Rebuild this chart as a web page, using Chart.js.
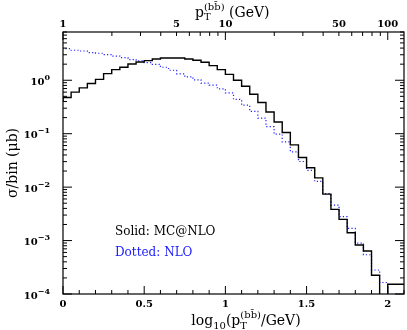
<!DOCTYPE html>
<html>
<head>
<meta charset="utf-8">
<script src="https://cdn.jsdelivr.net/npm/chart.js@4.4.0/dist/chart.umd.min.js"></script>
<style>
  html, body { margin: 0; padding: 0; background: #fff; }
</style>
</head>
<body>
<canvas id="chart" width="407" height="330"></canvas>
<script>
// histogram bins in log10(pT/GeV), width 0.05 starting at 0
const binStart = 0;
const binWidth = 0.05;
// sigma per bin (mub), solid = MC@NLO, dotted = NLO
const mcatnlo = [0.41, 0.475, 0.60, 0.72, 0.87, 1.04, 1.33, 1.58, 1.75, 2.02,
                 2.20, 2.33, 2.50, 2.61, 2.61, 2.61, 2.50, 2.37, 2.17, 1.88,
                 1.58, 1.29, 1.00, 0.77, 0.547, 0.383, 0.255, 0.166, 0.105, 0.0618,
                 0.0359, 0.0230, 0.0149, 0.0074, 0.00383, 0.00249, 0.0014, 0.000824, 0.000637, 0.000224,
                 0.00001, 0.000152];
const nlo = [4.08, 3.91, 3.64, 3.53, 3.30, 3.20, 3.02, 2.84, 2.65, 2.44,
             2.30, 2.14, 1.99, 1.75, 1.54, 1.32, 1.16, 1.02, 0.88, 0.81,
             0.69, 0.58, 0.438, 0.341, 0.261, 0.195, 0.136, 0.098, 0.0703, 0.0457,
             0.0302, 0.0205, 0.0128, 0.00756, 0.00461, 0.00281, 0.00169, 0.000898, 0.000543, 0.000281,
             0.000164, 0.00001];
const bottomTicks = [0, 0.5, 1, 1.5, 2];
const topTickLabels = [1, 5, 10, 50, 100];
const decadeTicks = [1e-4, 1e-3, 1e-2, 1e-1, 1];

const serif = '"DejaVu Serif", serif';

function histPoints(values) {
    const pts = values.map((v, i) => ({ x: binStart + i * binWidth, y: v }));
    pts.push({ x: binStart + values.length * binWidth, y: values[values.length - 1] });
    return pts;
}

// draws text made of pieces (subscripts / superscripts), stack = start under previous piece
function drawRich(ctx, segs, x, y, align) {
    let cursor = 0, lastStart = 0;
    const placed = segs.map(s => {
        ctx.font = (s.weight || '') + ' ' + s.size + 'px ' + serif;
        const w = ctx.measureText(s.t).width;
        const start = s.stack ? lastStart : cursor;
        lastStart = start;
        cursor = Math.max(cursor, start + w);
        return { s, start };
    });
    let x0 = x;
    if (align === 'center') x0 = x - cursor / 2;
    if (align === 'right') x0 = x - cursor;
    ctx.textAlign = 'left';
    ctx.textBaseline = 'alphabetic';
    placed.forEach(p => {
        ctx.font = (p.s.weight || '') + ' ' + p.s.size + 'px ' + serif;
        ctx.fillText(p.s.t, x0 + p.start, y + (p.s.dy || 0));
    });
}

const framePlugin = {
    id: 'frame',
    afterDatasetsDraw(chart) {
        const { ctx, chartArea: a, scales } = chart;
        ctx.save();
        ctx.strokeStyle = '#000';
        ctx.lineWidth = 1.2;
        ctx.strokeRect(a.left, a.top, a.right - a.left, a.bottom - a.top);

        ctx.lineWidth = 1;
        ctx.beginPath();
        // bottom axis ticks, every 0.1
        for (let k = 0; k <= 21; k++) {
            const px = scales.x.getPixelForValue(k / 10);
            const len = k % 5 === 0 ? 8 : 4;
            ctx.moveTo(px, a.bottom);
            ctx.lineTo(px, a.bottom - len);
        }
        // top axis ticks, pT in GeV
        for (let d = 0; d <= 2; d++) {
            for (let m = 1; m <= 9; m++) {
                const g = m * Math.pow(10, d);
                if (g > 125) continue;
                const px = scales.x2.getPixelForValue(Math.log10(g));
                const len = m === 1 ? 8 : 4;
                ctx.moveTo(px, a.top);
                ctx.lineTo(px, a.top + len);
            }
        }
        // left / right log ticks
        for (let d = -4; d <= 0; d++) {
            for (let m = 1; m <= 9; m++) {
                const v = m * Math.pow(10, d);
                if (v > 8) continue;
                const py = scales.y.getPixelForValue(v);
                const len = m === 1 ? 9 : 4;
                ctx.moveTo(a.left, py);
                ctx.lineTo(a.left + len, py);
                ctx.moveTo(a.right, py);
                ctx.lineTo(a.right - len, py);
            }
        }
        ctx.stroke();

        ctx.fillStyle = '#000';
        // y tick labels 10^n
        decadeTicks.forEach(v => {
            const py = scales.y.getPixelForValue(v);
            const e = String(Math.round(Math.log10(v))).replace('-', '\u2212');
            drawRich(ctx, [
                { t: '10', size: 10, weight: 'bold' },
                { t: e, size: 8, weight: 'bold', dy: -5 }
            ], 50, py + 4.5, 'right');
        });

        // axis titles
        drawRich(ctx, [
            { t: 'log', size: 14 },
            { t: '10', size: 10, dy: 4 },
            { t: '(p', size: 14 },
            { t: 'T', size: 10, dy: 4 },
            { t: '(bb\u0304)', size: 10, dy: -7, stack: true },
            { t: '/GeV)', size: 14 }
        ], 246, 325, 'center');

        drawRich(ctx, [
            { t: 'p', size: 14 },
            { t: 'T', size: 10, dy: 3 },
            { t: '(bb\u0304)', size: 10, dy: -7, stack: true },
            { t: ' (GeV)', size: 14 }
        ], 195, 17, 'left');

        ctx.save();
        ctx.translate(13, (a.top + a.bottom) / 2);
        ctx.rotate(-Math.PI / 2);
        ctx.font = '14px ' + serif;
        ctx.textAlign = 'center';
        ctx.textBaseline = 'middle';
        ctx.fillText('\u03C3/bin (\u03BCb)', 0, 0);
        ctx.restore();

        // legend notes
        ctx.font = '12px ' + serif;
        ctx.textAlign = 'left';
        ctx.textBaseline = 'alphabetic';
        ctx.fillStyle = '#000';
        ctx.fillText('Solid: MC@NLO', 115, 235);
        ctx.fillStyle = '#1a1aff';
        ctx.fillText('Dotted: NLO', 115, 256);
        ctx.restore();
    }
};

const tickFont = { family: serif, size: 10, weight: 'bold' };

new Chart(document.getElementById('chart'), {
    type: 'line',
    data: {
        datasets: [{
            label: 'MC@NLO',
            data: histPoints(mcatnlo),
            borderColor: '#000',
            borderWidth: 1.4,
            stepped: 'after',
            pointRadius: 0,
            fill: false
        }, {
            label: 'NLO',
            data: histPoints(nlo),
            borderColor: '#2222ff',
            borderWidth: 1.2,
            borderDash: [1.2, 2.2],
            stepped: 'after',
            pointRadius: 0,
            fill: false
        }]
    },
    options: {
        responsive: false,
        animation: false,
        layout: { padding: { right: 3 } },
        plugins: { legend: { display: false }, tooltip: { enabled: false } },
        scales: {
            x: {
                type: 'linear',
                position: 'bottom',
                min: 0,
                max: 2.1,
                afterBuildTicks: s => { s.ticks = bottomTicks.map(v => ({ value: v })); },
                afterFit: s => { s.height = 36; },
                ticks: { font: tickFont, color: '#000', padding: 4, maxRotation: 0, autoSkip: false,
                         callback: v => String(v) },
                grid: { display: false, drawTicks: false },
                border: { display: false }
            },
            x2: {
                type: 'linear',
                position: 'top',
                min: 0,
                max: 2.1,
                afterBuildTicks: s => { s.ticks = topTickLabels.map(v => ({ value: Math.log10(v) })); },
                afterFit: s => { s.height = 32; },
                ticks: { font: tickFont, color: '#000', padding: 2, maxRotation: 0, autoSkip: false,
                         callback: (v, i) => String(topTickLabels[i]) },
                grid: { display: false, drawTicks: false },
                border: { display: false }
            },
            y: {
                type: 'logarithmic',
                min: 1e-4,
                max: 8,
                afterBuildTicks: s => { s.ticks = decadeTicks.map(v => ({ value: v })); },
                afterFit: s => { s.width = 63; },
                ticks: { display: false },
                grid: { display: false, drawTicks: false },
                border: { display: false }
            }
        }
    },
    plugins: [framePlugin]
});
</script>
</body>
</html>
